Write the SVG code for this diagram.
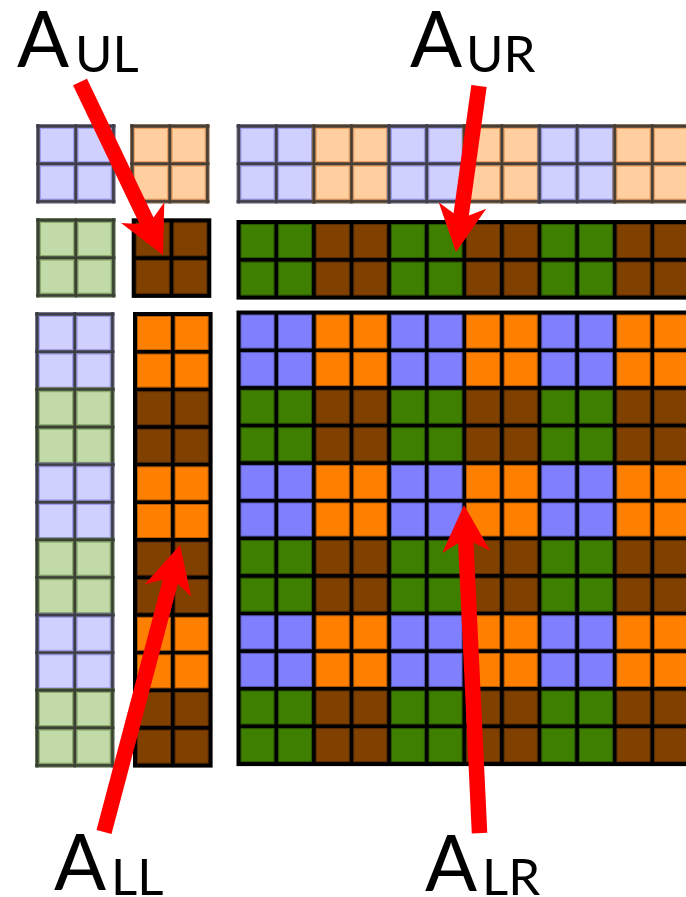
<svg xmlns="http://www.w3.org/2000/svg" xmlns:xlink="http://www.w3.org/1999/xlink" width="686" height="897" viewBox="0 0 686 897">
<style>
.blue{fill:#8080ff;stroke:#5a5ab8;stroke-width:1}
.orange{fill:#ff8000;stroke:#b85c00;stroke-width:1}
.green{fill:#3f7f00;stroke:#2a5800;stroke-width:1}
.brown{fill:#804000;stroke:#5c2e00;stroke-width:1}
.pblue{fill:#d0d0ff;stroke:#9c9cf0;stroke-width:1}
.porange{fill:#ffcf9f;stroke:#f0a060;stroke-width:1}
.pgreen{fill:#c2d9a8;stroke:#8cad6c;stroke-width:1}
.frame{fill:#000}
.pline{stroke:#1a1a1a;stroke-opacity:0.6;stroke-width:2.4;fill:none}
.arrow{fill:#ff0000}
.lbl{font-family:Lato,"Liberation Sans",sans-serif;fill:#000}
</style>
<defs>
<g id="c-blue"><rect class="blue" x="0" y="0" width="33" height="33"/><rect class="blue" x="37.6" y="0" width="33" height="33"/><rect class="blue" x="0" y="37.6" width="33" height="33"/><rect class="blue" x="37.6" y="37.6" width="33" height="33"/></g>
<g id="c-orange"><rect class="orange" x="0" y="0" width="33" height="33"/><rect class="orange" x="37.6" y="0" width="33" height="33"/><rect class="orange" x="0" y="37.6" width="33" height="33"/><rect class="orange" x="37.6" y="37.6" width="33" height="33"/></g>
<g id="c-green"><rect class="green" x="0" y="0" width="33" height="33"/><rect class="green" x="37.6" y="0" width="33" height="33"/><rect class="green" x="0" y="37.6" width="33" height="33"/><rect class="green" x="37.6" y="37.6" width="33" height="33"/></g>
<g id="c-brown"><rect class="brown" x="0" y="0" width="33" height="33"/><rect class="brown" x="37.6" y="0" width="33" height="33"/><rect class="brown" x="0" y="37.6" width="33" height="33"/><rect class="brown" x="37.6" y="37.6" width="33" height="33"/></g>
<g id="p-lines"><path class="pline" d="M-2.3,-4.5V75.1M35.3,-4.5V75.1M72.9,-4.5V75.1M-4.5,-2.3H75.1M-4.5,35.3H75.1M-4.5,72.9H75.1"/></g>
<g id="p-blue"><rect x="-4.5" y="-4.5" width="79.6" height="79.6" fill="#74748e"/><rect class="pblue" x="0" y="0" width="33" height="33"/><rect class="pblue" x="37.6" y="0" width="33" height="33"/><rect class="pblue" x="0" y="37.6" width="33" height="33"/><rect class="pblue" x="37.6" y="37.6" width="33" height="33"/><use xlink:href="#p-lines"/></g>
<g id="p-orange"><rect x="-4.5" y="-4.5" width="79.6" height="79.6" fill="#8e7458"/><rect class="porange" x="0" y="0" width="33" height="33"/><rect class="porange" x="37.6" y="0" width="33" height="33"/><rect class="porange" x="0" y="37.6" width="33" height="33"/><rect class="porange" x="37.6" y="37.6" width="33" height="33"/><use xlink:href="#p-lines"/></g>
<g id="p-green"><rect x="-4.5" y="-4.5" width="79.6" height="79.6" fill="#6a7a58"/><rect class="pgreen" x="0" y="0" width="33" height="33"/><rect class="pgreen" x="37.6" y="0" width="33" height="33"/><rect class="pgreen" x="0" y="37.6" width="33" height="33"/><rect class="pgreen" x="37.6" y="37.6" width="33" height="33"/><use xlink:href="#p-lines"/></g>
</defs>
<rect width="686" height="897" fill="#fff"/>

<g id="pale-top-left">
<use xlink:href="#p-blue" x="40.5" y="128.5"/>
</g>
<g id="pale-top-orange">
<use xlink:href="#p-orange" x="134.5" y="128.5"/>
</g>
<g id="pale-left-green">
<use xlink:href="#p-green" x="40.5" y="222.5"/>
</g>
<g id="pale-top-row">
<use xlink:href="#p-blue" x="241" y="128.5"/>
<use xlink:href="#p-orange" x="316.2" y="128.5"/>
<use xlink:href="#p-blue" x="391.4" y="128.5"/>
<use xlink:href="#p-orange" x="466.6" y="128.5"/>
<use xlink:href="#p-blue" x="541.8" y="128.5"/>
<use xlink:href="#p-orange" x="617" y="128.5"/>
</g>
<g id="pale-left-column">
<use xlink:href="#p-blue" x="39.5" y="316.5"/>
<use xlink:href="#p-green" x="39.5" y="391.7"/>
<use xlink:href="#p-blue" x="39.5" y="466.9"/>
<use xlink:href="#p-green" x="39.5" y="542.1"/>
<use xlink:href="#p-blue" x="39.5" y="617.3"/>
<use xlink:href="#p-green" x="39.5" y="692.5"/>
</g>

<g id="A_UL">
<rect class="frame" x="131.7" y="218.3" width="79.6" height="79.6"/>
<use xlink:href="#c-brown" x="136.2" y="222.8"/>
</g>
<g id="A_UR">
<rect class="frame" x="236.5" y="220" width="460" height="79.6"/>
<use xlink:href="#c-green" x="241" y="224.5"/>
<use xlink:href="#c-brown" x="316.2" y="224.5"/>
<use xlink:href="#c-green" x="391.4" y="224.5"/>
<use xlink:href="#c-brown" x="466.6" y="224.5"/>
<use xlink:href="#c-green" x="541.8" y="224.5"/>
<use xlink:href="#c-brown" x="617" y="224.5"/>
</g>
<g id="A_LL">
<rect class="frame" x="133" y="312" width="79.6" height="455.6"/>
<use xlink:href="#c-orange" x="137.5" y="316.5"/>
<use xlink:href="#c-brown" x="137.5" y="391.7"/>
<use xlink:href="#c-orange" x="137.5" y="466.9"/>
<use xlink:href="#c-brown" x="137.5" y="542.1"/>
<use xlink:href="#c-orange" x="137.5" y="617.3"/>
<use xlink:href="#c-brown" x="137.5" y="692.5"/>
</g>
<g id="A_LR">
<rect class="frame" x="236.5" y="310.5" width="460" height="455.6"/>
<use xlink:href="#c-blue" x="241" y="315"/><use xlink:href="#c-orange" x="316.2" y="315"/><use xlink:href="#c-blue" x="391.4" y="315"/><use xlink:href="#c-orange" x="466.6" y="315"/><use xlink:href="#c-blue" x="541.8" y="315"/><use xlink:href="#c-orange" x="617" y="315"/>
<use xlink:href="#c-green" x="241" y="390.2"/><use xlink:href="#c-brown" x="316.2" y="390.2"/><use xlink:href="#c-green" x="391.4" y="390.2"/><use xlink:href="#c-brown" x="466.6" y="390.2"/><use xlink:href="#c-green" x="541.8" y="390.2"/><use xlink:href="#c-brown" x="617" y="390.2"/>
<use xlink:href="#c-blue" x="241" y="465.4"/><use xlink:href="#c-orange" x="316.2" y="465.4"/><use xlink:href="#c-blue" x="391.4" y="465.4"/><use xlink:href="#c-orange" x="466.6" y="465.4"/><use xlink:href="#c-blue" x="541.8" y="465.4"/><use xlink:href="#c-orange" x="617" y="465.4"/>
<use xlink:href="#c-green" x="241" y="540.6"/><use xlink:href="#c-brown" x="316.2" y="540.6"/><use xlink:href="#c-green" x="391.4" y="540.6"/><use xlink:href="#c-brown" x="466.6" y="540.6"/><use xlink:href="#c-green" x="541.8" y="540.6"/><use xlink:href="#c-brown" x="617" y="540.6"/>
<use xlink:href="#c-blue" x="241" y="615.8"/><use xlink:href="#c-orange" x="316.2" y="615.8"/><use xlink:href="#c-blue" x="391.4" y="615.8"/><use xlink:href="#c-orange" x="466.6" y="615.8"/><use xlink:href="#c-blue" x="541.8" y="615.8"/><use xlink:href="#c-orange" x="617" y="615.8"/>
<use xlink:href="#c-green" x="241" y="691"/><use xlink:href="#c-brown" x="316.2" y="691"/><use xlink:href="#c-green" x="391.4" y="691"/><use xlink:href="#c-brown" x="466.6" y="691"/><use xlink:href="#c-green" x="541.8" y="691"/><use xlink:href="#c-brown" x="617" y="691"/>
</g>

<g id="connectors">
<polygon class="arrow" transform="translate(163,255) rotate(64.37)" points="0,0 -47,24 -38,7.75 -191.9,7.75 -191.9,-7.75 -38,-7.75 -47,-24"/>
<polygon class="arrow" transform="translate(456,252) rotate(97.89)" points="0,0 -47,24 -38,7.75 -167.6,7.75 -167.6,-7.75 -38,-7.75 -47,-24"/>
<polygon class="arrow" transform="translate(180,545) rotate(-75.17)" points="0,0 -47,24 -38,7.75 -296.9,7.75 -296.9,-7.75 -38,-7.75 -47,-24"/>
<polygon class="arrow" transform="translate(464,505) rotate(-92.71)" points="0,0 -47,24 -38,7.75 -328.4,7.75 -328.4,-7.75 -38,-7.75 -47,-24"/>
</g>

<g id="labels">
<text class="lbl" x="17" y="67" font-size="77">A<tspan x="75" y="71.7" font-size="51">UL</tspan></text>
<text class="lbl" x="410" y="66.7" font-size="77">A<tspan x="466" y="71.7" font-size="51">UR</tspan></text>
<text class="lbl" x="54" y="890" font-size="77">A<tspan x="111" y="895" font-size="51">LL</tspan></text>
<text class="lbl" x="425" y="890.7" font-size="77">A<tspan x="482" y="895" font-size="51">LR</tspan></text>
</g>
</svg>
